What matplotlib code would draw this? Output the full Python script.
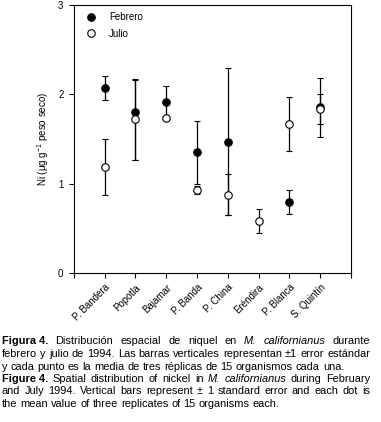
import matplotlib
matplotlib.use("Agg")
import matplotlib.pyplot as plt
import numpy as np
from matplotlib import font_manager
from matplotlib.lines import Line2D

# data
sites = ["P. Bandera", "Popotla", "Bajamar", "P. Banda", "P. China",
         "Eréndira", "P. Blanca", "S. Quintín"]
feb_mean = [2.07, 1.80, 1.91, 1.35, 1.47, np.nan, 0.80, 1.855]
feb_lo = [0.13, 0.53, 0.18, 0.35, 0.82, np.nan, 0.135, 0.33]
feb_hi = [0.13, 0.36, 0.18, 0.35, 0.82, np.nan, 0.135, 0.33]
jul_mean = [1.19, 1.72, 1.74, 0.93, 0.88, 0.58, 1.67, 1.835]
jul_se = [0.31, 0.45, 0.0, 0.04, 0.23, 0.135, 0.30, 0.165]

names = {f.name for f in font_manager.fontManager.ttflist}
base = "Liberation Sans" if "Liberation Sans" in names else "DejaVu Sans"
narrow = "Liberation Sans Narrow" if "Liberation Sans Narrow" in names else base
plt.rcParams['font.family'] = [base, 'DejaVu Sans']
plt.rcParams['mathtext.fontset'] = 'custom'
plt.rcParams['mathtext.rm'] = base

fig = plt.figure(figsize=(3.81, 4.22), dpi=100)
ax = fig.add_axes([0.194, 0.3524, 0.727, 0.6362])

x = np.arange(1, len(sites) + 1)
ekw = dict(fmt='o', ms=5.4, color='black', ecolor='black', elinewidth=0.9,
           capsize=2.3, capthick=0.9, mew=0.8)
ax.errorbar(x, feb_mean, yerr=[feb_lo, feb_hi], mfc='black', **ekw)
ax.errorbar(x, jul_mean, yerr=jul_se, mfc='white', **ekw)

ax.set_xlim(0, 9)
ax.set_ylim(0, 3)
ax.set_xticks(np.arange(0, 10))
ax.set_xticklabels([''] + sites + [''], rotation=45, ha='right',
                   rotation_mode='anchor', fontsize=7)
ax.set_yticks([0, 1, 2, 3])
ax.tick_params(axis='y', labelsize=7, length=3.5, width=0.8, pad=4)
ax.tick_params(axis='x', length=3.5, width=0.8, pad=3)
for s in ax.spines.values():
    s.set_linewidth(0.8)
ax.set_ylabel(r'Ni ($\mathrm{\mu}$g g$^{-1}$ peso seco)', fontsize=7, labelpad=5)

handles = [Line2D([], [], ls='none', marker='o', ms=5.4, mfc='black', mec='black', mew=0.8),
           Line2D([], [], ls='none', marker='o', ms=5.4, mfc='white', mec='black', mew=0.8)]
ax.legend(handles, ['Febrero', 'Julio'], loc='upper left', frameon=False, fontsize=7,
          handletextpad=1.3, handlelength=1.0, labelspacing=0.65,
          bbox_to_anchor=(0.021, 0.997), borderaxespad=0.3)

# caption, justified by hand
lines = [
    ([("Figura 4.", "bold"), ("Distribución", ""), ("espacial", ""), ("de", ""),
      ("niquel", ""), ("en", ""), ("M.", "italic"), ("californianus", "italic"),
      ("durante", "")], True),
    ([(w, "") for w in "febrero y julio de 1994. Las barras verticales representan ±1 error estándar".split()], True),
    ([(w, "") for w in "y cada punto es la media de tres réplicas de 15 organismos cada una.".split()], False),
    ([("Figure 4.", "bold"), ("Spatial", ""), ("distribution", ""), ("of", ""),
      ("nickel", ""), ("in", ""), ("M.", "italic"), ("californianus", "italic"),
      ("during", ""), ("February", "")], True),
    ([(w, "") for w in "and July 1994. Vertical bars represent ± 1 standard error and each dot is".split()], True),
    ([(w, "") for w in "the mean value of three replicates of 15 organisms each.".split()], False),
]
ys = [341.5, 354.0, 366.5, 379.0, 391.5, 404.0]
x0, x1 = 2.0, 370.0
W, H = 381.0, 422.0
fs = 7.9
fam = [narrow, base, 'DejaVu Sans']
renderer = fig.canvas.get_renderer()

# width of a normal space
probe2 = fig.text(0, 0, "a a", fontsize=fs, family=fam)
probe1 = fig.text(0, 0, "aa", fontsize=fs, family=fam)
sw = probe2.get_window_extent(renderer).width - probe1.get_window_extent(renderer).width
probe2.remove()
probe1.remove()

for (words, justify), yp in zip(lines, ys):
    txts = []
    for w, st in words:
        kw = dict(fontsize=fs, family=fam, va='center', ha='left')
        if st == 'bold':
            kw['fontweight'] = 'bold'
        if st == 'italic':
            kw['fontstyle'] = 'italic'
        txts.append(fig.text(0, 1 - yp / H, w, **kw))
    widths = [t.get_window_extent(renderer).width for t in txts]
    if justify and len(words) > 1:
        gap = (x1 - x0 - sum(widths)) / (len(words) - 1)
    else:
        gap = sw
    xp = x0
    for t, wd in zip(txts, widths):
        t.set_x(xp / W)
        xp += wd + gap

fig.savefig("out.png", dpi=100)
